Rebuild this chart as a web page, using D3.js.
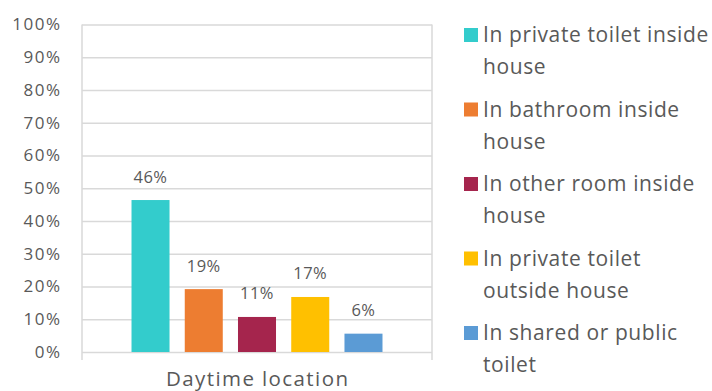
<!DOCTYPE html>
<html>
<head>
<meta charset="utf-8">
<script src="https://cdn.jsdelivr.net/npm/d3@7"></script>
<style>
  html, body { margin: 0; padding: 0; background: #fff; }
  svg { display: block; font-family: "Open Sans", "Noto Sans", sans-serif; }
</style>
</head>
<body>
<svg id="chart" width="712" height="391"></svg>
<script>
// Share of respondents by toilet location (daytime)
const categories = ["Daytime location"];
const seriesNames = [
  "In private toilet inside house",
  "In bathroom inside house",
  "In other room inside house",
  "In private toilet outside house",
  "In shared or public toilet"
];
const seriesValues = [0.464, 0.192, 0.107, 0.168, 0.056];
const seriesColors = ["#33CCCC", "#ED7D31", "#A5254D", "#FFC000", "#5B9BD5"];
const legendLines = [
  ["In private toilet inside", "house"],
  ["In bathroom inside", "house"],
  ["In other room inside", "house"],
  ["In private toilet", "outside house"],
  ["In shared or public", "toilet"]
];
const yTicks = [0, 0.1, 0.2, 0.3, 0.4, 0.5, 0.6, 0.7, 0.8, 0.9, 1.0];

const svg = d3.select("#chart");
const plot = { left: 82, right: 432, top: 24.5, bottom: 352 };
const textColor = "#595959";
const gridColor = "#D9D9D9";

const x0 = d3.scaleBand().domain(categories).range([plot.left, plot.right]).padding(0);
const x1 = d3.scaleBand().domain(seriesNames).range([0, x0.bandwidth()])
  .paddingInner(0.286).paddingOuter(0.93);
const y = d3.scaleLinear().domain([0, 1]).range([plot.bottom, plot.top]);

// Gridlines and y-axis labels
const yAxis = d3.axisLeft(y).tickValues(yTicks).tickFormat(d3.format(".0%"))
  .tickSize(-(plot.right - plot.left)).tickPadding(20.5);
const gy = svg.append("g").attr("transform", `translate(${plot.left},0)`).call(yAxis);
gy.select(".domain").remove();
gy.selectAll(".tick line").attr("stroke", gridColor).attr("stroke-width", 1.3);
gy.selectAll(".tick text").attr("fill", textColor).attr("font-size", 17)
  .attr("font-family", "'Open Sans', sans-serif").style("letter-spacing", "1.5px");

// Category boundary lines
x0.domain().forEach(c => {
  [x0(c), x0(c) + x0.bandwidth()].forEach(xx => {
    svg.append("line").attr("x1", xx).attr("x2", xx)
      .attr("y1", plot.top).attr("y2", plot.bottom + 8)
      .attr("stroke", gridColor).attr("stroke-width", 1.5);
  });
});

// Bars
const groups = svg.selectAll("g.cat").data(categories).join("g")
  .attr("class", "cat").attr("transform", c => `translate(${x0(c)},0)`);
const rows = seriesNames.map((n, i) => ({ name: n, value: seriesValues[i], color: seriesColors[i] }));
groups.selectAll("rect").data(rows).join("rect")
  .attr("x", d => x1(d.name)).attr("width", x1.bandwidth())
  .attr("y", d => y(d.value)).attr("height", d => y(0) - y(d.value))
  .attr("fill", d => d.color);

// Value labels
groups.selectAll("text.val").data(rows).join("text")
  .attr("class", "val")
  .attr("x", d => x1(d.name) + x1.bandwidth() / 2)
  .attr("y", d => y(d.value) - 17.5)
  .attr("text-anchor", "middle").attr("fill", textColor).attr("font-size", 16.5)
  .style("letter-spacing", "0.5px")
  .text(d => d3.format(".0%")(d.value));

// Category label
svg.selectAll("text.cat").data(categories).join("text").attr("class", "cat")
  .attr("x", c => x0(c) + x0.bandwidth() / 2 + 0.7).attr("y", 386)
  .attr("text-anchor", "middle").attr("fill", textColor).attr("font-size", 20.5)
  .style("letter-spacing", "1.4px")
  .text(c => c);

// Legend
const legend = svg.append("g").attr("transform", "translate(464,0)");
const items = legend.selectAll("g").data(rows).join("g")
  .attr("transform", (d, i) => `translate(0,${42 + i * 74.5})`);
items.append("rect").attr("x", 0).attr("y", -14).attr("width", 14).attr("height", 14)
  .attr("fill", d => d.color);
items.append("text").attr("fill", textColor).attr("font-size", 21)
  .style("letter-spacing", "0.6px")
  .selectAll("tspan").data((d, i) => legendLines[i]).join("tspan")
  .attr("x", 19).attr("dy", (l, j) => j === 0 ? 0 : 32)
  .text(l => l);
</script>
</body>
</html>
